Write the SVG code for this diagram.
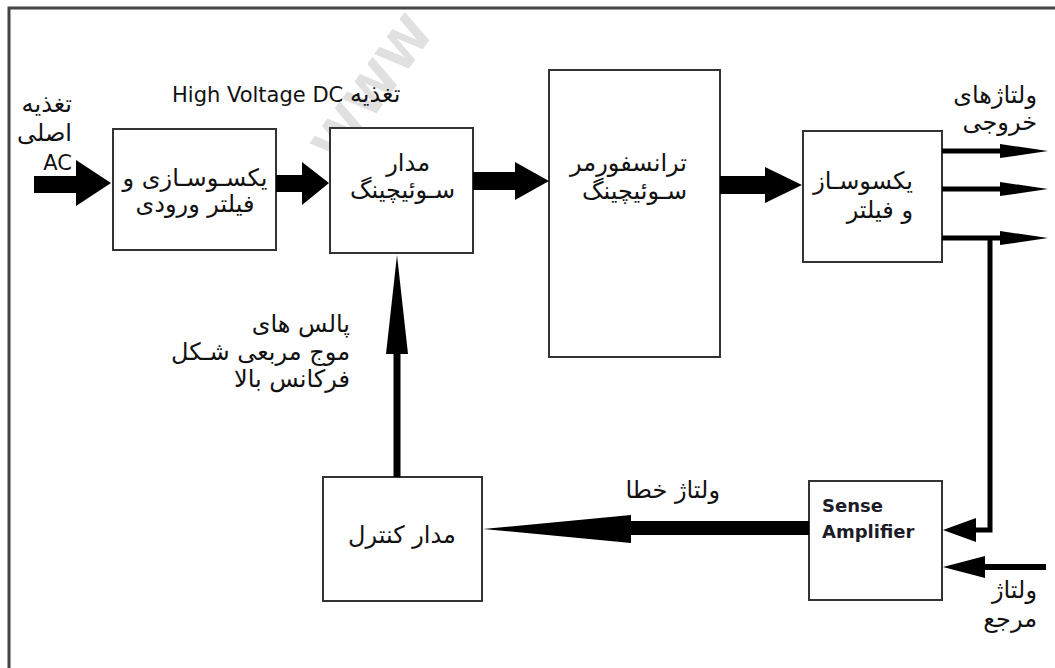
<svg xmlns="http://www.w3.org/2000/svg" width="1055" height="668" viewBox="0 0 1055 668">
  <style>
    .box { fill: #ffffff; stroke: #333333; stroke-width: 2; }
    .fa { font-family: "DejaVu Sans", sans-serif; font-size: 24px; fill: #111111; }
    .en { font-family: "DejaVu Sans", sans-serif; font-size: 21px; fill: #111111; }
    .bold { font-family: "DejaVu Sans", sans-serif; font-size: 18px; font-weight: bold; fill: #1c1c28; }
    .arrow { fill: #000000; stroke: none; }
    .line { fill: none; stroke: #000000; }
    .wm { font-family: "DejaVu Sans", sans-serif; font-size: 50px; font-weight: bold; fill: #e0e0e0; }
  </style>

  <rect width="1055" height="668" fill="#ffffff"/>

  <!-- light diagonal site mark -->
  <text class="wm" transform="translate(338,166) rotate(-54)">WWW</text>

  <!-- frame: top and left edges only -->
  <path d="M9,668 V8 H1055" fill="none" stroke="#444444" stroke-width="3"/>

  <!-- input label -->
  <g id="label-input">
    <text class="fa" text-anchor="end" x="72" y="112">تغذیه</text>
    <text class="fa" text-anchor="end" x="72" y="141">اصلی</text>
    <text class="en" text-anchor="end" x="72" y="170">AC</text>
  </g>

  <g id="label-hvdc">
    <text class="en" x="172" y="102">High Voltage DC <tspan font-size="24">تغذیه</tspan></text>
  </g>

  <!-- blocks -->
  <g id="rectifier-input-filter">
    <rect class="box" x="113" y="129" width="163" height="121"/>
    <text class="fa" text-anchor="middle" x="195" y="186">یکسـوسـازی و</text>
    <text class="fa" text-anchor="middle" x="195" y="212">فیلتر ورودی</text>
  </g>

  <g id="switching-circuit">
    <rect class="box" x="330" y="128" width="143" height="125"/>
    <text class="fa" text-anchor="end" x="430" y="171">مدار</text>
    <text class="fa" text-anchor="end" x="455" y="198">سـوئیچینگ</text>
  </g>

  <g id="switching-transformer">
    <rect class="box" x="549" y="70" width="171" height="287"/>
    <text class="fa" text-anchor="end" x="687" y="171">ترانسفورمر</text>
    <text class="fa" text-anchor="end" x="687" y="199">سـوئیچینگ</text>
  </g>

  <g id="output-rectifier-filter">
    <rect class="box" x="803" y="131" width="139" height="131"/>
    <text class="fa" text-anchor="end" x="913" y="189">یکسوسـاز</text>
    <text class="fa" text-anchor="end" x="913" y="218">و فیلتر</text>
  </g>

  <g id="label-outputs">
    <text class="fa" text-anchor="end" x="1037" y="103">ولتاژهای</text>
    <text class="fa" text-anchor="end" x="1037" y="130">خروجی</text>
  </g>

  <g id="label-pulses">
    <text class="fa" text-anchor="end" x="350" y="332">پالس های</text>
    <text class="fa" text-anchor="end" x="350" y="360">موج مربعی شـکل</text>
    <text class="fa" text-anchor="end" x="350" y="387">فرکانس بالا</text>
  </g>

  <g id="control-circuit">
    <rect class="box" x="323" y="477" width="159" height="124"/>
    <text class="fa" text-anchor="middle" x="402" y="543">مدار کنترل</text>
  </g>

  <g id="label-error">
    <text class="fa" text-anchor="end" x="720" y="498">ولتاژ خطا</text>
  </g>

  <g id="sense-amplifier">
    <rect class="box" x="809" y="481" width="133" height="119"/>
    <text class="bold" x="822" y="512">Sense</text>
    <text class="bold" x="822" y="538">Amplifier</text>
  </g>

  <g id="label-reference">
    <text class="fa" text-anchor="end" x="1037" y="598">ولتاژ</text>
    <text class="fa" text-anchor="end" x="1037" y="627">مرجع</text>
  </g>

  <!-- connectors -->
  <g id="connectors">
    <!-- AC in -->
    <polygon class="arrow" points="34,176 76,176 76,160 111,183 76,206 76,193 34,193"/>
    <!-- rectifier to switching -->
    <polygon class="arrow" points="276,175 302,175 302,162 329,183 302,205 302,192 276,192"/>
    <!-- switching to transformer -->
    <polygon class="arrow" points="473,172 515,172 515,162 549,181 515,200 515,190 473,190"/>
    <!-- transformer to output filter -->
    <polygon class="arrow" points="720,176 765,176 765,167 802,185 765,203 765,194 720,194"/>

    <!-- output rails -->
    <line class="line" x1="942" y1="151" x2="1002" y2="151" stroke-width="5"/>
    <polygon class="arrow" points="1000,144 1048,151 1000,158"/>
    <line class="line" x1="942" y1="189" x2="1002" y2="189" stroke-width="5"/>
    <polygon class="arrow" points="1000,182 1048,189 1000,196"/>
    <line class="line" x1="942" y1="238" x2="1002" y2="238" stroke-width="5"/>
    <polygon class="arrow" points="1000,231 1048,238 1000,245"/>

    <!-- feedback to sense amplifier -->
    <path class="line" d="M990,236 V530 H972" stroke-width="5"/>
    <polygon class="arrow" points="976,518 943,530 976,542"/>

    <!-- reference voltage in -->
    <line class="line" x1="1046" y1="567" x2="980" y2="567" stroke-width="6"/>
    <polygon class="arrow" points="985,556 943,567 985,578"/>

    <!-- error voltage to control -->
    <rect class="arrow" x="628" y="521" width="181" height="14"/>
    <polygon class="arrow" points="631,515 483,529 631,543"/>

    <!-- control pulses up to switching -->
    <rect class="arrow" x="393.5" y="350" width="7" height="127"/>
    <polygon class="arrow" points="386,354 397,255 408,354"/>
  </g>
</svg>
